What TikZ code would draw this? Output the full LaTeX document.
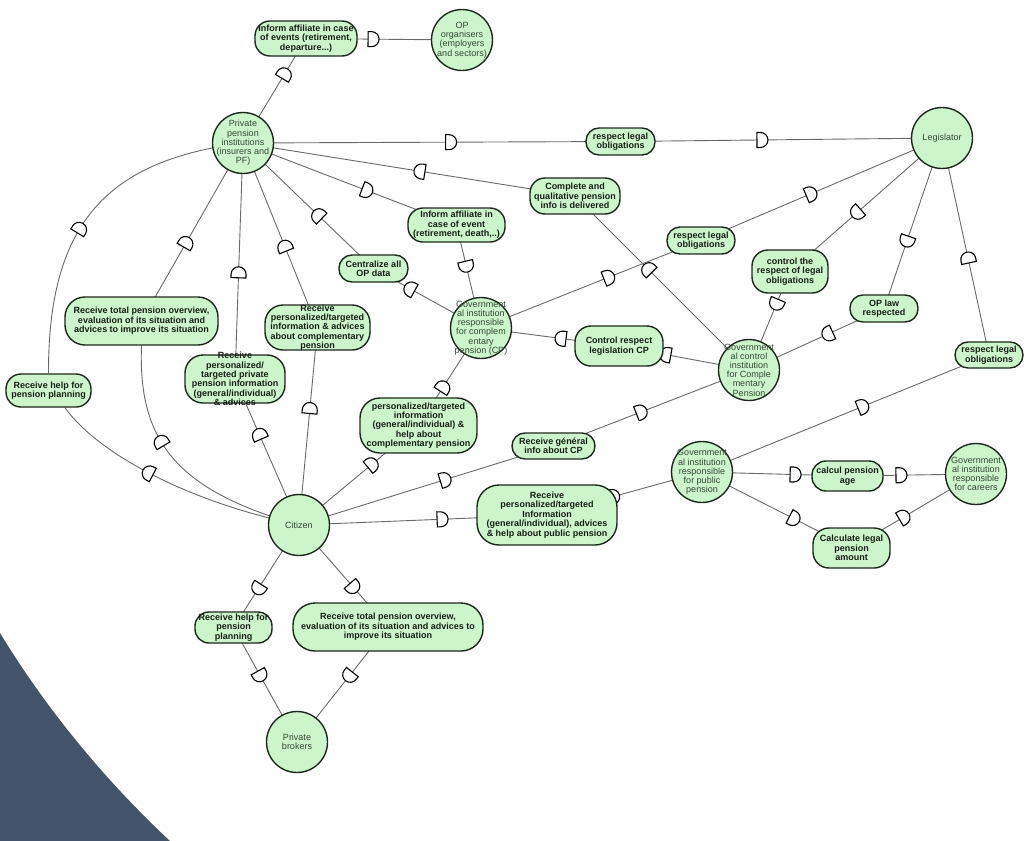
\documentclass[tikz,border=0pt]{standalone}
\usepackage{fontspec}
\setmainfont{Liberation Sans}
\usetikzlibrary{backgrounds,decorations.markings}

\definecolor{nodefill}{RGB}{204,245,204}
\definecolor{nodeline}{RGB}{28,40,28}
\definecolor{linkgray}{RGB}{105,105,105}
\definecolor{actortext}{RGB}{52,72,52}
\definecolor{goaltext}{RGB}{22,30,22}
\definecolor{slate}{RGB}{67,83,105}

% dependency mark: half disc sitting on a link, round side along +x
\newcommand\depmark{\draw[black, line width=1.1pt, fill=white] (-5,-7.5) -- (-1.5,-7.5) arc[start angle=-90, end angle=90, radius=7.5] -- (-5,7.5) -- cycle;}

\tikzset{
  actor/.style={circle, draw=nodeline, line width=1.4pt, fill=nodefill, minimum size=61pt, inner sep=0pt},
  actorlabel/.style={font=\fontsize{9}{9.2}\selectfont, text=actortext, align=center, inner sep=0pt},
  goal/.style={rectangle, rounded corners=13pt, draw=nodeline, line width=1.4pt, fill=nodefill, inner sep=0pt},
  goallabel/.style={font=\fontsize{9}{9.4}\selectfont\bfseries, text=goaltext, align=center, inner sep=0pt},
  link/.style={draw=linkgray, line width=0.9pt},
  dfwd/.style={postaction={decorate, decoration={markings, mark=at position #1 with {\depmark}}}},
  dback/.style={postaction={decorate, decoration={markings, mark=at position #1 with {\begin{scope}[xscale=-1]\depmark\end{scope}}}}},
}

\begin{document}
\begin{tikzpicture}[x=1pt, y=-1pt]
\useasboundingbox (0,0) rectangle (1026,841);

% ---------- actors ----------
\node[actor] (OP)   at (462,40)  {};
\node[actorlabel] (OPt) at (OP) {OP\\organisers\\(employers\\and sectors)};
\node[actor] (PPI)  at (243,143) {};
\node[actorlabel] (PPIt) at (PPI) {Private\\pension\\institutions\\(insurers and\\PF)};
\node[actor] (LEG)  at (942,138) {};
\node[actorlabel] (LEGt) at (LEG) {Legislator};
\node[actor] (GCP)  at (481,328) {};
\node[actorlabel] (GCPt) at (GCP) {Government\\al institution\\responsible\\for complem\\entary\\pension (CP)};
\node[actor] (GCTRL) at (749,370) {};
\node[actorlabel] (GCTRLt) at (GCTRL) {Government\\al control\\institution\\for Comple\\mentary\\Pension};
\node[actor] (GPUB) at (702,472) {};
\node[actorlabel] (GPUBt) at (GPUB) {Government\\al institution\\responsible\\for public\\pension};
\node[actor] (GCAR) at (976,474) {};
\node[actorlabel] (GCARt) at (GCAR) {Government\\al institution\\responsible\\for careers};
\node[actor] (CIT)  at (299,525) {};
\node[actorlabel] (CITt) at (CIT) {Citizen};
\node[actor] (BRK)  at (297,742) {};
\node[actorlabel] (BRKt) at (BRK) {Private\\brokers};

% ---------- goals ----------
\node[goal, minimum width=102pt, minimum height=35pt, rounded corners=15pt] (gInfoEv) at (306,38.5) {};
\node[goallabel] (gInfoEvt) at (gInfoEv) {Inform affiliate in case\\of events (retirement,\\departure...)};
\node[goal, minimum width=69pt, minimum height=27pt] (gRespA) at (620.5,141.5) {};
\node[goallabel] (gRespAt) at (gRespA) {respect legal\\obligations};
\node[goal, minimum width=90pt, minimum height=36pt, rounded corners=15pt] (gCompl) at (575,196) {};
\node[goallabel] (gComplt) at (gCompl) {Complete and\\qualitative pension\\info is delivered};
\node[goal, minimum width=97pt, minimum height=34pt, rounded corners=15pt] (gInfoDe) at (456.5,225) {};
\node[goallabel] (gInfoDet) at (gInfoDe) {Inform affiliate in\\case of event\\(retirement, death,..)};
\node[goal, minimum width=69pt, minimum height=27pt] (gCentral) at (373.5,268.5) {};
\node[goallabel] (gCentralt) at (gCentral) {Centralize all\\OP data};
\node[goal, minimum width=68pt, minimum height=27pt] (gRespB) at (701,240.5) {};
\node[goallabel] (gRespBt) at (gRespB) {respect legal\\obligations};
\node[goal, minimum width=76pt, minimum height=43pt, rounded corners=16pt] (gCtrlResp) at (790,271.5) {};
\node[goallabel] (gCtrlRespt) at (gCtrlResp) {control the\\respect of legal\\obligations};
\node[goal, minimum width=68pt, minimum height=27pt] (gOPlaw) at (884,308.5) {};
\node[goallabel] (gOPlawt) at (gOPlaw) {OP law\\respected};
\node[goal, minimum width=68pt, minimum height=26pt] (gRespC) at (989,355) {};
\node[goallabel] (gRespCt) at (gRespC) {respect legal\\obligations};
\node[goal, minimum width=88pt, minimum height=40pt, rounded corners=16pt] (gCtrlLeg) at (619,346) {};
\node[goallabel] (gCtrlLegt) at (gCtrlLeg) {Control respect\\legislation CP};
\node[goal, minimum width=153pt, minimum height=48pt, rounded corners=20pt] (gTotL) at (141.5,321) {};
\node[goallabel] (gTotLt) at (gTotL) {Receive total pension overview,\\evaluation of its situation and\\advices to improve its situation};
\node[goal, minimum width=105pt, minimum height=45pt, rounded corners=18pt] (gPersCP) at (317.5,327.5) {};
\node[goallabel] (gPersCPt) at (gPersCP) {Receive\\personalized/targeted\\information \& advices\\about complementary\\pension};
\node[goal, minimum width=100pt, minimum height=48pt, rounded corners=18pt] (gPersPriv) at (235,379) {};
\node[goallabel] (gPersPrivt) at (gPersPriv) {Receive\\personalized/\\targeted private\\pension information\\(general/individual)\\\& advices};
\node[goal, minimum width=85pt, minimum height=33pt, rounded corners=15pt] (gHelpL) at (48.5,390.5) {};
\node[goallabel] (gHelpLt) at (gHelpL) {Receive help for\\pension planning};
\node[goal, minimum width=117pt, minimum height=55pt, rounded corners=20pt] (gHelpCP) at (418.5,425.5) {};
\node[goallabel] (gHelpCPt) at (gHelpCP) {personalized/targeted\\information\\(general/individual) \&\\help about\\complementary pension};
\node[goal, minimum width=83pt, minimum height=26pt] (gGen) at (553.5,446) {};
\node[goallabel] (gGent) at (gGen) {Receive général\\info about CP};
\node[goal, minimum width=140pt, minimum height=60pt, rounded corners=22pt] (gPub) at (547,515) {};
\node[goallabel] (gPubt) at (gPub) {Receive\\personalized/targeted\\Information\\(general/individual), advices\\\& help about public pension};
\node[goal, minimum width=71pt, minimum height=30pt, rounded corners=14pt] (gAge) at (847.5,476) {};
\node[goallabel] (gAget) at (gAge) {calcul pension\\age};
\node[goal, minimum width=77pt, minimum height=40pt, rounded corners=16pt] (gAmount) at (851.5,548) {};
\node[goallabel] (gAmountt) at (gAmount) {Calculate legal\\pension\\amount};
\node[goal, minimum width=77pt, minimum height=31pt, rounded corners=14pt] (gHelpB) at (233.5,627.5) {};
\node[goallabel] (gHelpBt) at (gHelpB) {Receive help for\\pension\\planning};
\node[goal, minimum width=190pt, minimum height=48pt, rounded corners=22pt] (gTotB) at (388,627) {};
\node[goallabel] (gTotBt) at (gTotB) {Receive total pension overview,\\evaluation of its situation and advices to\\improve its situation};

% ---------- links and dependency marks (behind the nodes) ----------
\begin{pgfonlayer}{background}
  \fill[slate] (0,633) .. controls (50,715) and (110,785) .. (170,841) -- (0,841) -- cycle;

  % private pension institutions
  \path[link, dfwd=0.66] (PPI.center) -- (gInfoEv.center);
  \path[link, dfwd=0.43] (gInfoEv.center) -- (OP.center);
  \path[link, dfwd=0.55] (PPI.center) -- (gRespA.center);
  \path[link, dfwd=0.44] (gRespA.center) -- (LEG.center);
  \path[link, dback=0.533] (PPI.center) -- (gCompl.center);
  \path[link, dback=0.42] (gCompl.center) -- (GCTRL.center);
  \path[link, dfwd=0.58] (PPI.center) -- (gInfoDe.center);
  \path[link, dfwd=0.40] (gInfoDe.center) -- (GCP.center);
  \path[link, dback=0.575] (PPI.center) -- (gCentral.center);
  \path[link, dback=0.34] (gCentral.center) -- (GCP.center);
  \path[link, dback=0.56] (PPI.center) -- (gTotL.center);
  \path[link, dback=0.375] (gTotL.south) .. controls (138,440) and (175,490) .. (CIT.center);
  \path[link, dback=0.55] (PPI.center) -- (gPersPriv.center);
  \path[link, dback=0.38] (gPersPriv.center) -- (CIT.center);
  \path[link, dback=0.56] (PPI.center) -- (gPersCP.center);
  \path[link, dback=0.41] (gPersCP.center) -- (CIT.center);
  \path[link, dback=0.56] (PPI.center) .. controls (110,160) and (48,220) .. (gHelpL.north);
  \path[link, dback=0.40] ([xshift=16.5pt]gHelpL.south) .. controls (95,450) and (180,500) .. (CIT.center);

  % complementary pension institution
  \path[link, dfwd=0.58] (GCP.center) -- (gRespB.center);
  \path[link, dfwd=0.456] (gRespB.center) -- (LEG.center);
  \path[link, dback=0.58] (GCP.center) -- (gCtrlLeg.center);
  \path[link, dback=0.36] (gCtrlLeg.center) -- (GCTRL.center);
  \path[link, dfwd=0.61] (CIT.center) -- (gHelpCP.center);
  \path[link, dfwd=0.395] (gHelpCP.center) -- (GCP.center);

  % control institution
  \path[link, dback=0.67] (GCTRL.center) -- (gCtrlResp.center);
  \path[link, dback=0.44] (gCtrlResp.center) -- (LEG.center);
  \path[link, dback=0.585] (GCTRL.center) -- (gOPlaw.center);
  \path[link, dback=0.396] (gOPlaw.center) -- (LEG.center);
  \path[link, dfwd=0.574] (CIT.center) -- (gGen.center);
  \path[link, dfwd=0.448] (gGen.center) -- (GCTRL.center);

  % public pension institution
  \path[link, dfwd=0.56] (GPUB.center) -- (gRespC.center);
  \path[link, dfwd=0.447] (gRespC.center) -- (LEG.center);
  \path[link, dfwd=0.577] (CIT.center) -- (gPub.center);
  \path[link, dfwd=0.43] (gPub.center) -- (GPUB.center);
  \path[link, dfwd=0.64] (GPUB.center) -- (gAge.center);
  \path[link, dfwd=0.416] (gAge.center) -- (GCAR.center);
  \path[link, dfwd=0.615] (GPUB.center) -- (gAmount.center);
  \path[link, dfwd=0.42] (gAmount.center) -- (GCAR.center);

  % private brokers
  \path[link, dfwd=0.62] (CIT.center) -- (gHelpB.center);
  \path[link, dfwd=0.42] (gHelpB.center) -- (BRK.center);
  \path[link, dfwd=0.61] (CIT.center) -- (gTotB.center);
  \path[link, dfwd=0.426] (gTotB.center) -- (BRK.center);
\end{pgfonlayer}
\end{tikzpicture}
\end{document}
